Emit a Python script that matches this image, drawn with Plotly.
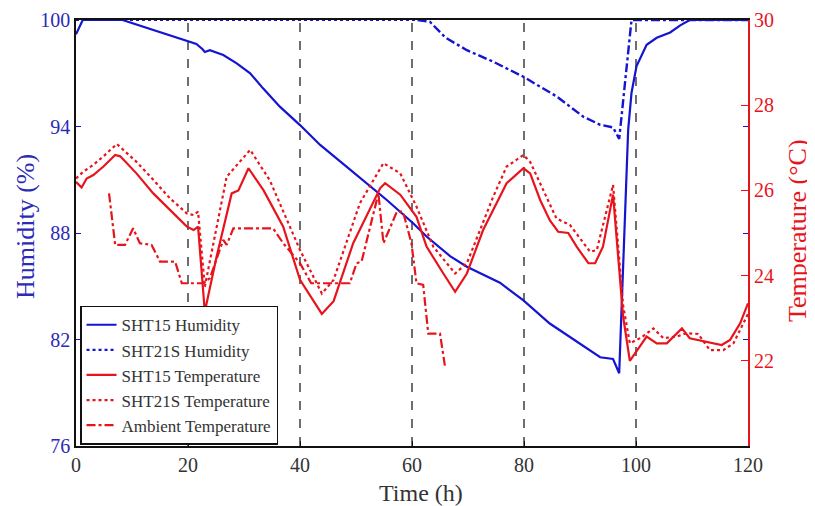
import plotly.graph_objects as go

# ---------------- data ----------------
hum15_t = [0, 1.2, 8.3, 14.9, 19.6, 21.5, 22.6, 23.0, 23.9, 26.3, 28.7, 31.1, 33.4, 36.4, 40.0,
           43.6, 48.3, 51.9, 55.5, 60.2, 62.6, 66.8, 69.8, 75.7, 79.9, 84.6, 90.6, 93.6, 95.9,
           97.0, 98.6, 99.2, 100.1, 101.9, 103.7, 106.1, 107.9, 109.6, 120]
hum15_v = [99.2, 100, 100, 99.34, 98.87, 98.65, 98.35, 98.2, 98.3, 98.03, 97.56, 97.0, 96.15, 95.12,
           94.08, 92.96, 91.74, 90.8, 89.86, 88.55, 87.8, 86.7, 86.1, 85.2, 84.2, 82.9, 81.6, 81.0,
           80.9, 80.1, 93.8, 95.9, 97.4, 98.6, 99.0, 99.3, 99.7, 100, 100]

hum21_t = [0, 61, 63.2, 66, 69.8, 74.5, 79.9, 85.8, 90.6, 93.6, 95.9, 97.0, 99.2, 120]
hum21_v = [100, 100, 99.9, 99.0, 98.3, 97.65, 96.8, 95.7, 94.55, 94.1, 93.95, 93.3, 100, 100]

tmp15_t = [0, 1.0, 1.9, 3.1, 4.9, 7.0, 7.9, 10.8, 13.8, 16.8, 19.8, 21.0, 21.8, 23.0, 25.1, 27.8,
           29.0, 30.8, 33.5, 37.0, 40.0, 43.9, 46.0, 49.5, 54.3, 55.2, 57.9, 60.8, 62.6, 65.6, 67.7,
           69.8, 72.7, 76.9, 79.9, 81.1, 82.9, 84.6, 86.1, 87.9, 89.4, 91.5, 92.7, 94.1, 95.9, 97.7,
           98.9, 101.9, 103.7, 105.5, 108.2, 109.6, 112.6, 115.3, 116.8, 118.6, 120]
tmp15_v = [26.2, 26.07, 26.28, 26.36, 26.56, 26.83, 26.8, 26.4, 25.93, 25.54, 25.15, 25.07, 25.15,
           23.15, 24.44, 25.93, 26.0, 26.52, 26.0, 25.15, 23.9, 23.1, 23.4, 24.76, 26.05, 26.17,
           25.9, 25.38, 24.68, 24.05, 23.62, 24.05, 25.07, 26.17, 26.52, 26.4, 25.77, 25.3, 25.03,
           25.0, 24.68, 24.29, 24.29, 24.68, 25.9, 23.04, 22.0, 22.57, 22.41, 22.41, 22.76, 22.53,
           22.45, 22.37, 22.49, 22.88, 23.35]

tmp21_t = [0, 1.3, 3.1, 4.9, 7.3, 10.8, 13.8, 16.8, 19.8, 21.0, 21.8, 23.0, 26.9, 31.1, 34.6, 40.0,
           43.9, 46.0, 50.7, 54.9, 57.9, 60.8, 63.8, 67.7, 69.8, 74.5, 76.9, 79.9, 81.1, 85.8, 88.2,
           91.8, 93.0, 95.9, 97.7, 98.9, 101.0, 103.1, 104.9, 107.3, 109.0, 111.1, 113.2, 115.6,
           117.4, 119.2, 120]
tmp21_v = [26.28, 26.44, 26.6, 26.8, 27.09, 26.67, 26.25, 25.81, 25.46, 25.42, 25.5, 23.74, 26.32,
           26.95, 26.24, 24.6, 23.58, 23.9, 25.7, 26.64, 26.4, 25.62, 24.68, 24.05, 24.29, 25.85,
           26.56, 26.83, 26.67, 25.34, 25.19, 24.56, 24.6, 26.13, 23.3, 22.41, 22.55, 22.76, 22.53,
           22.57, 22.65, 22.63, 22.25, 22.25, 22.41, 22.88, 23.1]

amb_t = [5.9, 7.0, 8.75, 10.2, 11.4, 13.5, 15.0, 17.7, 18.9, 22.7, 23.9, 26.3, 26.9, 28.1, 35.2,
         37.0, 40.0, 42.0, 48.9, 50.1, 51.0, 54.0, 54.9, 57.3, 58.4, 59.9, 60.8, 62.0, 62.9, 65.0, 65.9]
amb_v = [25.93, 24.72, 24.72, 25.11, 24.76, 24.72, 24.33, 24.33, 23.82, 23.82, 23.94, 24.84, 24.72,
         25.11, 25.11, 24.76, 24.29, 23.82, 23.82, 24.29, 24.33, 25.93, 24.76, 25.5, 25.5, 24.76,
         23.82, 23.78, 22.64, 22.64, 21.86]

marker_hours = [20, 40, 60, 80, 100]
x_ticks = [0, 20, 40, 60, 80, 100, 120]
hum_ticks = [76, 82, 88, 94, 100]
tmp_ticks = [22, 24, 26, 28, 30]

# ---------------- styling ----------------
BLUE = "#1414d2"
BLUE_TXT = "#2b2bb8"
RED = "#e8141c"
FONT = "Liberation Serif, Times New Roman, Times, serif"

split = hum21_t.index(61) + 1

fig = go.Figure()
fig.add_trace(go.Scatter(x=hum15_t, y=hum15_v, name="SHT15 Humidity", mode="lines",
                         line=dict(color=BLUE, width=2.2)))
fig.add_trace(go.Scatter(x=hum21_t[:split], y=hum21_v[:split], name="SHT21S Humidity", mode="lines",
                         line=dict(color=BLUE, width=2.2, dash="dot")))
fig.add_trace(go.Scatter(x=hum21_t[split - 1:], y=hum21_v[split - 1:], name="SHT21S Humidity",
                         mode="lines", showlegend=False,
                         line=dict(color=BLUE, width=2.4, dash="dashdot")))
fig.add_trace(go.Scatter(x=tmp15_t, y=tmp15_v, name="SHT15 Temperature", mode="lines", yaxis="y2",
                         line=dict(color=RED, width=2.2)))
fig.add_trace(go.Scatter(x=tmp21_t, y=tmp21_v, name="SHT21S Temperature", mode="lines", yaxis="y2",
                         line=dict(color=RED, width=2.2, dash="dot")))
fig.add_trace(go.Scatter(x=amb_t, y=amb_v, name="Ambient Temperature", mode="lines", yaxis="y2",
                         line=dict(color=RED, width=2.2, dash="dashdot")))

for h in marker_hours:
    fig.add_shape(type="line", x0=h, x1=h, y0=0, y1=1, xref="x", yref="paper",
                  line=dict(color="#222", width=1.3, dash="dash"), layer="below")

# axis titles as annotations for precise placement
fig.add_annotation(text="Humidity (%)", xref="paper", yref="paper", x=0, y=0.5,
                   xanchor="center", yanchor="middle", xshift=-51, yshift=6, textangle=-90,
                   showarrow=False, font=dict(family=FONT, size=26, color=BLUE_TXT))
fig.add_annotation(text="Temperature (°C)", xref="paper", yref="paper", x=1, y=0.5,
                   xanchor="center", yanchor="middle", xshift=49, yshift=2, textangle=-90,
                   showarrow=False, font=dict(family=FONT, size=26, color=RED))
fig.add_annotation(text="Time (h)", xref="paper", yref="paper", x=0.5, y=0,
                   xanchor="center", yanchor="middle", xshift=9, yshift=-47,
                   showarrow=False, font=dict(family=FONT, size=24, color="#333"))

fig.update_layout(
    width=807, height=498,
    margin=dict(l=68, r=67, t=12, b=60),
    paper_bgcolor="white", plot_bgcolor="white",
    font=dict(family=FONT, size=19, color="#333"),
    showlegend=True,
    legend=dict(x=0.006, y=0.003, xanchor="left", yanchor="bottom",
                bordercolor="#111", borderwidth=1.5, bgcolor="white",
                font=dict(family=FONT, size=17, color="#333"),
                tracegroupgap=0),
    xaxis=dict(range=[0, 120], tickvals=x_ticks, ticks="inside", ticklen=5,
               tickcolor="#111", showline=True, linecolor="#111", linewidth=1.5,
               mirror=True, showgrid=False, zeroline=False, automargin=False,
               tickfont=dict(family=FONT, size=20, color="#333")),
    yaxis=dict(range=[76, 100], tickvals=hum_ticks, ticks="inside", ticklen=5,
               tickcolor=BLUE, showline=True, linecolor="#111", linewidth=1.5,
               mirror="ticks", showgrid=False, zeroline=False, automargin=False,
               tickfont=dict(family=FONT, size=20, color=BLUE_TXT)),
    yaxis2=dict(range=[20, 30], tickvals=tmp_ticks, ticks="inside", ticklen=7,
                tickcolor=RED, overlaying="y", side="right", showline=True, linecolor=RED,
                linewidth=2, showgrid=False, zeroline=False, automargin=False,
                tickfont=dict(family=FONT, size=20, color=RED)),
)

fig.write_html("out.html")
